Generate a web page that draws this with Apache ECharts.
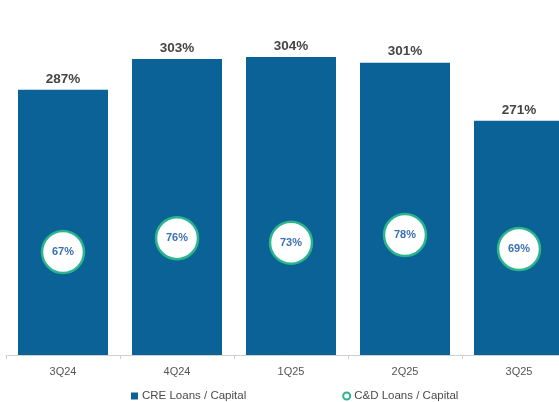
<!DOCTYPE html>
<html>
<head>
<meta charset="utf-8">
<script src="https://cdn.jsdelivr.net/npm/echarts@6/dist/echarts.min.js"></script>
<style>
  html, body { margin: 0; padding: 0; background: #ffffff; }
  #chart { width: 559px; height: 402px; }
</style>
</head>
<body>
<div id="chart"></div>
<script>
// Quarterly concentration ratios
const quarters = ['3Q24', '4Q24', '1Q25', '2Q25', '3Q25'];
const creLoansToCapital = [287, 303, 304, 301, 271];
const cdLoansToCapital = [67, 76, 73, 78, 69];
const seriesNames = ['CRE Loans / Capital', 'C&D Loans / Capital'];

const font = 'Liberation Sans, Arial, sans-serif';
const chart = echarts.init(document.getElementById('chart'), null, { renderer: 'canvas' });

chart.setOption({
  animation: false,
  backgroundColor: '#ffffff',
  textStyle: { fontFamily: font },
  // the plot runs past the right edge, so the last bar is clipped
  grid: { left: 6, width: 570, top: 26, bottom: 47, containLabel: false, outerBoundsMode: 'none' },
  legend: {
    left: 131,
    top: 390,
    padding: 0,
    itemGap: 96,
    itemWidth: 7,
    itemHeight: 7,
    textStyle: { color: '#4a4a4a', fontSize: 11.5, fontFamily: font, padding: [0, 0, 0, -1] },
    data: [
      { name: seriesNames[0], icon: 'rect' },
      { name: seriesNames[1], icon: 'circle', itemStyle: { color: '#ffffff', borderColor: '#2bb58c', borderWidth: 2 } }
    ]
  },
  xAxis: {
    type: 'category',
    data: quarters,
    boundaryGap: true,
    axisLine: { lineStyle: { color: '#d0d0d0', width: 1 } },
    axisTick: { show: true, length: 4, lineStyle: { color: '#d0d0d0' } },
    axisLabel: { color: '#555555', fontSize: 11, margin: 11, fontFamily: font }
  },
  yAxis: [
    { type: 'value', min: 150, max: 320, show: false, splitLine: { show: false } },
    { type: 'value', min: 0, max: 214, show: false, splitLine: { show: false } }
  ],
  series: [
    {
      name: seriesNames[0],
      type: 'bar',
      yAxisIndex: 0,
      data: creLoansToCapital,
      barWidth: 90,
      itemStyle: { color: '#0a6296' },
      label: {
        show: true,
        position: 'top',
        distance: 4,
        formatter: '{c}%',
        color: '#454545',
        fontSize: 13.5,
        fontWeight: 'bold',
        fontFamily: font
      },
      z: 1
    },
    {
      name: seriesNames[1],
      type: 'scatter',
      yAxisIndex: 1,
      data: cdLoansToCapital,
      symbol: 'circle',
      symbolSize: 42,
      itemStyle: { color: '#ffffff', opacity: 1, borderColor: '#2bb58c', borderWidth: 2.5 },
      label: {
        show: true,
        position: 'inside',
        formatter: '{c}%',
        color: '#3a6fb5',
        fontSize: 11,
        fontWeight: 'bold',
        fontFamily: font
      },
      z: 3
    }
  ]
});
</script>
</body>
</html>
